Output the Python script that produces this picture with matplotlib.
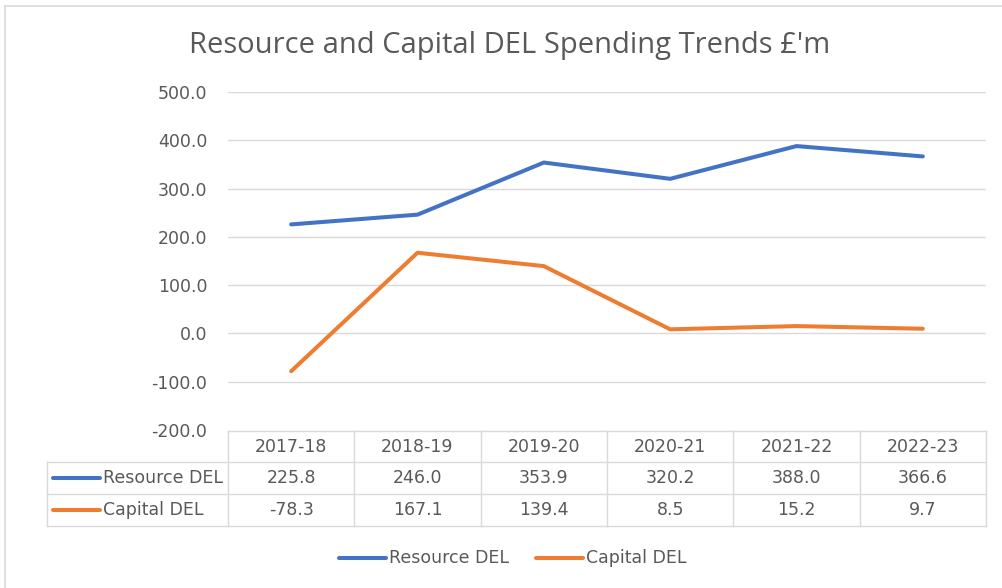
import matplotlib
matplotlib.use("Agg")
import matplotlib.pyplot as plt
from matplotlib.lines import Line2D
import matplotlib.transforms as mtransforms

categories = ["2017-18", "2018-19", "2019-20", "2020-21", "2021-22", "2022-23"]
resource_del = [225.8, 246.0, 353.9, 320.2, 388.0, 366.6]
capital_del = [-78.3, 167.1, 139.4, 8.5, 15.2, 9.7]
series_names = ["Resource DEL", "Capital DEL"]
yticks = [-200, -100, 0, 100, 200, 300, 400, 500]
title = "Resource and Capital DEL Spending Trends £'m"

BLUE = "#4472C4"
ORANGE = "#ED7D31"
GRID = "#D9D9D9"
TXT = "#595959"
FS = 12.5
FAM = ["DejaVu Sans"]

W, H = 1002, 588
fig = plt.figure(figsize=(W / 100, H / 100), dpi=100)
fig.patch.set_facecolor("white")

def fx(px):
    return px / W

def fy(py):
    return 1 - py / H

# outer chart border (top and left visible)
fig.add_artist(Line2D([fx(5), 1.0], [fy(6), fy(6)], transform=fig.transFigure, color=GRID, lw=1.2))
fig.add_artist(Line2D([fx(5), fx(5)], [0, fy(6)], transform=fig.transFigure, color=GRID, lw=1.2))

L, R, T, B = 228, 986, 92, 430
ax = fig.add_axes([fx(L), fy(B), fx(R - L), (B - T) / H])
x = list(range(len(categories)))
ax.plot(x, resource_del, color=BLUE, lw=2.9, solid_capstyle="round", solid_joinstyle="round", zorder=3)
ax.plot(x, capital_del, color=ORANGE, lw=2.9, solid_capstyle="round", solid_joinstyle="round", zorder=3)
ax.set_xlim(-0.5, len(categories) - 0.5)
ax.set_ylim(-200, 500)
ax.set_yticks(yticks)
ax.set_yticklabels([f"{v:.1f}" for v in yticks], family=FAM)
ax.tick_params(axis="y", length=0, pad=15, labelsize=FS, labelcolor=TXT)
ax.set_xticks([])
for s in ax.spines.values():
    s.set_visible(False)
for v in yticks[1:]:
    ax.axhline(v, color=GRID, lw=1.0, zorder=1)

fig.text(0.509, fy(45), title, ha="center", va="center", fontsize=21,
         color=TXT, family=["Liberation Sans Narrow", "Open Sans"])

# Data table drawn beneath the axes, columns aligned to category positions
trans = mtransforms.blended_transform_factory(ax.transData, fig.transFigure)
row_y = [431, 462, 494, 526]
left_px = 47
tx0 = -0.5
tx1 = len(categories) - 0.5
ax.add_line(Line2D([tx0, tx1], [fy(row_y[0])] * 2, transform=trans, color=GRID, lw=1.0, clip_on=False))
for ry in row_y[1:]:
    fig.add_artist(Line2D([fx(left_px), fx(R)], [fy(ry)] * 2, transform=fig.transFigure, color=GRID, lw=1.0))
for i in range(len(categories) + 1):
    xv = i - 0.5
    ax.add_line(Line2D([xv, xv], [fy(row_y[0]), fy(row_y[3])], transform=trans, color=GRID, lw=1.0, clip_on=False))
fig.add_artist(Line2D([fx(left_px)] * 2, [fy(row_y[1]), fy(row_y[3])], transform=fig.transFigure, color=GRID, lw=1.0))

for i, c in enumerate(categories):
    ax.text(i, fy((row_y[0] + row_y[1]) / 2), c, transform=trans, ha="center", va="center",
            fontsize=FS, color=TXT, clip_on=False, family=FAM)
    ax.text(i, fy((row_y[1] + row_y[2]) / 2), f"{resource_del[i]:.1f}", transform=trans, ha="center",
            va="center", fontsize=FS, color=TXT, clip_on=False, family=FAM)
    ax.text(i, fy((row_y[2] + row_y[3]) / 2), f"{capital_del[i]:.1f}", transform=trans, ha="center",
            va="center", fontsize=FS, color=TXT, clip_on=False, family=FAM)

for k, (name, col) in enumerate(zip(series_names, [BLUE, ORANGE])):
    yc = fy((row_y[k + 1] + row_y[k + 2]) / 2)
    fig.add_artist(Line2D([fx(53), fx(100)], [yc, yc], transform=fig.transFigure, color=col,
                          lw=2.9, solid_capstyle="round"))
    fig.text(fx(103), yc, name, ha="left", va="center", fontsize=FS, color=TXT, family=FAM)

# legend
leg_y = fy(558)
for name, col, x0 in zip(series_names, [BLUE, ORANGE], [339, 536]):
    fig.add_artist(Line2D([fx(x0), fx(x0 + 47)], [leg_y, leg_y], transform=fig.transFigure, color=col,
                          lw=2.9, solid_capstyle="round"))
    fig.text(fx(x0 + 50), leg_y, name, ha="left", va="center", fontsize=FS, color=TXT, family=FAM)

fig.savefig("out.png", dpi=100, facecolor="white")
